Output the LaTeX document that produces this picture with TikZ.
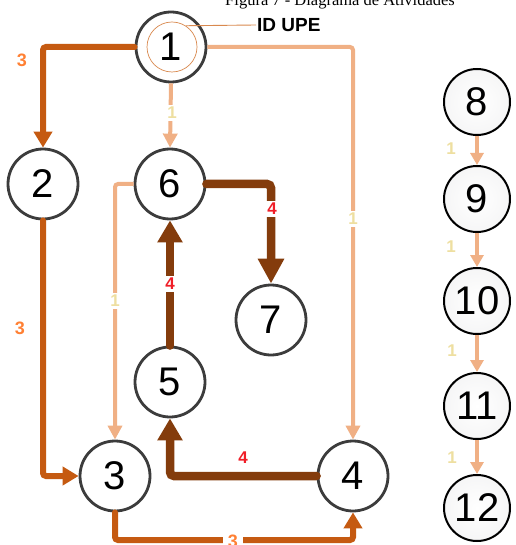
\documentclass[tikz,border=0pt]{standalone}
\usepackage{fontspec}
\setmainfont{Liberation Sans}
\newfontfamily\serifttl{Liberation Serif}
\usetikzlibrary{arrows.meta}
\definecolor{orln}{HTML}{C55A11}
\definecolor{brln}{HTML}{843C0C}
\definecolor{saln}{HTML}{F0B085}
\definecolor{lblthree}{HTML}{FF8033}
\definecolor{lblfour}{HTML}{F01E28}
\definecolor{lblone}{HTML}{EEDFA0}
\definecolor{ndgray}{HTML}{3C3C3C}
\definecolor{thinor}{HTML}{D9894F}
\begin{document}
\begin{tikzpicture}[x=1pt,y=-1pt,
  nd/.style={circle, draw=ndgray, line width=2.8pt, fill=white, minimum size=70pt, inner sep=0pt, font=\fontsize{40}{40}\selectfont},
  rnd/.style={circle, draw=black, line width=2pt, inner color=white, outer color=blue!3!gray!7, minimum size=66pt, inner sep=0pt, font=\fontsize{40}{40}\selectfont},
  orarr/.style={draw=orln, line width=6pt, rounded corners=3pt, line cap=round, -{Triangle[width=18pt,length=16pt]}},
  brarr/.style={draw=brln, line width=8.5pt, rounded corners=4pt, line cap=round, -{Triangle[width=25pt,length=25pt]}},
  saarr/.style={draw=saln, line width=4pt, rounded corners=3pt, -{Triangle[width=14pt,length=14pt]}},
  lbthree/.style={font=\bfseries\fontsize{18}{18}\selectfont, text=lblthree, inner sep=2pt},
  lbfour/.style={font=\bfseries\fontsize{17}{17}\selectfont, text=lblfour, inner sep=2pt},
  lbone/.style={font=\bfseries\fontsize{17}{17}\selectfont, text=lblone, inner sep=2pt},
  wbg/.style={fill=white}
]
\useasboundingbox (0,0) rectangle (515,545);
\fill[white] (0,0) rectangle (515,545);

% title (cut off at top)
\node[font=\serifttl\fontsize{16.5}{16.5}\selectfont, anchor=base east, inner sep=0pt] (title) at (455,6) {Figura 7 - Diagrama de Atividades};

% main nodes
\node[nd] (n1) at (171,47) {1};
\node[circle, draw=thinor, line width=0.7pt, minimum size=50pt, inner sep=0pt] (n1in) at (172,47) {};
\node[nd] (n2) at (43,184) {2};
\node[nd] (n6) at (170,184) {6};
\node[nd] (n7) at (271,320) {7};
\node[nd] (n5) at (170,382) {5};
\node[nd] (n3) at (115,476) {3};
\node[nd] (n4) at (353,476) {4};

% ID UPE
\node[font=\bfseries\fontsize{19}{19}\selectfont, anchor=west, inner sep=1pt] (idupe) at (256,25) {ID UPE};
\draw[thinor, line width=0.9pt] (n1in.57) -- (idupe.west);

% right column
\node[rnd] (n8) at (477,102) {8};
\node[rnd] (n9) at (477,199) {9};
\node[rnd] (n10) at (477,301) {10};
\node[rnd] (n11) at (477,406) {11};
\node[rnd] (n12) at (477,508) {12};

% connectors
\draw[orarr] (n1.west) -| (n2.north);
\draw[orarr] (n2.south) |- (n3.west);
\coordinate (c34) at (233,540);
\draw[orarr] (n3.south) |- (c34) -| (n4.south);

\draw[saarr] (n1.south) -- (n6.north);
\draw[saarr] (n1.east) -| (n4.north);
\draw[saarr] (n6.west) -| (n3.north);

\draw[brarr] (n6.east) -| (n7.north);
\draw[brarr, -{Triangle[width=24pt,length=22pt]}] (n5.north) -- (n6.south);
\draw[brarr, -{Triangle[width=24pt,length=22pt]}] (n4.west) -| (n5.south);

\draw[saarr, -{Triangle[width=13pt,length=12pt]}] (n8.south) -- (n9.north);
\draw[saarr, -{Triangle[width=13pt,length=12pt]}] (n9.south) -- (n10.north);
\draw[saarr, -{Triangle[width=13pt,length=12pt]}] (n10.south) -- (n11.north);
\draw[saarr, -{Triangle[width=13pt,length=12pt]}] (n11.south) -- (n12.north);

% labels
\node[lbthree] (l12) at (22,60) {3};
\node[lbthree] (l23) at (20,328) {3};
\node[lbthree, wbg, inner xsep=5pt] (l34) at (233,541) {3};
\node[lbone, wbg] (l16) at (172,113) {1};
\node[lbone, wbg] (l14) at (353,219) {1};
\node[lbone, wbg] (l63) at (115,301) {1};
\node[lbfour, wbg] (l67) at (272,209) {4};
\node[lbfour, wbg] (l56) at (170,284) {4};
\node[lbfour] (l45) at (243,458) {4};
\node[lbone] (l89) at (451,149) {1};
\node[lbone] (l910) at (451,247) {1};
\node[lbone] (l1011) at (452,351) {1};
\node[lbone] (l1112) at (452,458) {1};
\end{tikzpicture}
\end{document}
